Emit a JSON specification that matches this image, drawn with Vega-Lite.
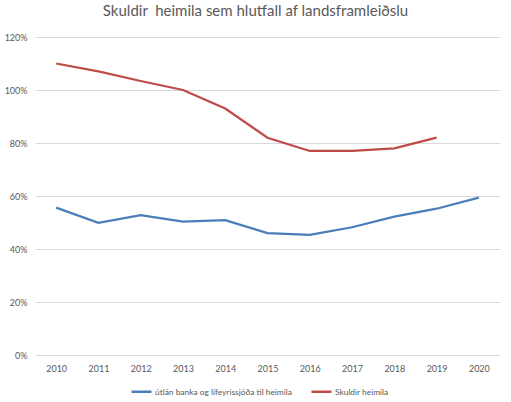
{
  "$schema": "https://vega.github.io/schema/vega-lite/v6.json",
  "autosize": "none",
  "width": 465,
  "height": 318,
  "padding": {"left": 35, "top": 37, "right": 11, "bottom": 47},
  "background": "white",
  "title": {
    "text": "Skuldir\u00a0 heimila sem hlutfall af landsframleiðslu",
    "font": "Lato",
    "fontSize": 15,
    "fontWeight": "normal",
    "color": "#595959",
    "anchor": "middle",
    "dx": -12,
    "offset": 14
  },
  "data": {
    "values": [
      {"ar": "2010", "flokkur": "útlán banka og lífeyrissjóða til heimila", "gildi": 0.556},
      {"ar": "2011", "flokkur": "útlán banka og lífeyrissjóða til heimila", "gildi": 0.499},
      {"ar": "2012", "flokkur": "útlán banka og lífeyrissjóða til heimila", "gildi": 0.528},
      {"ar": "2013", "flokkur": "útlán banka og lífeyrissjóða til heimila", "gildi": 0.503},
      {"ar": "2014", "flokkur": "útlán banka og lífeyrissjóða til heimila", "gildi": 0.509},
      {"ar": "2015", "flokkur": "útlán banka og lífeyrissjóða til heimila", "gildi": 0.460},
      {"ar": "2016", "flokkur": "útlán banka og lífeyrissjóða til heimila", "gildi": 0.453},
      {"ar": "2017", "flokkur": "útlán banka og lífeyrissjóða til heimila", "gildi": 0.482},
      {"ar": "2018", "flokkur": "útlán banka og lífeyrissjóða til heimila", "gildi": 0.522},
      {"ar": "2019", "flokkur": "útlán banka og lífeyrissjóða til heimila", "gildi": 0.552},
      {"ar": "2020", "flokkur": "útlán banka og lífeyrissjóða til heimila", "gildi": 0.594},
      {"ar": "2010", "flokkur": "Skuldir heimila", "gildi": 1.10},
      {"ar": "2011", "flokkur": "Skuldir heimila", "gildi": 1.07},
      {"ar": "2012", "flokkur": "Skuldir heimila", "gildi": 1.034},
      {"ar": "2013", "flokkur": "Skuldir heimila", "gildi": 1.00},
      {"ar": "2014", "flokkur": "Skuldir heimila", "gildi": 0.93},
      {"ar": "2015", "flokkur": "Skuldir heimila", "gildi": 0.82},
      {"ar": "2016", "flokkur": "Skuldir heimila", "gildi": 0.77},
      {"ar": "2017", "flokkur": "Skuldir heimila", "gildi": 0.77},
      {"ar": "2018", "flokkur": "Skuldir heimila", "gildi": 0.78},
      {"ar": "2019", "flokkur": "Skuldir heimila", "gildi": 0.82}
    ]
  },
  "mark": {"type": "line", "strokeWidth": 2.25},
  "encoding": {
    "x": {
      "field": "ar",
      "type": "ordinal",
      "scale": {"type": "point", "padding": 0.5},
      "axis": {
        "title": null,
        "labelAngle": 0,
        "ticks": false,
        "domain": false,
        "labelPadding": 9,
        "labelFont": "Lato",
        "labelFontSize": 9,
        "labelColor": "#595959"
      }
    },
    "y": {
      "field": "gildi",
      "type": "quantitative",
      "scale": {"domain": [0, 1.2]},
      "axis": {
        "title": null,
        "values": [0, 0.2, 0.4, 0.6, 0.8, 1.0, 1.2],
        "format": ".0%",
        "ticks": false,
        "domain": false,
        "labelPadding": 8,
        "labelFont": "Lato",
        "labelFontSize": 9,
        "labelColor": "#595959",
        "gridColor": "#d9d9d9",
        "gridWidth": 1
      }
    },
    "color": {
      "field": "flokkur",
      "type": "nominal",
      "scale": {
        "domain": ["útlán banka og lífeyrissjóða til heimila", "Skuldir heimila"],
        "range": ["#4A7EBB", "#BE4B48"]
      },
      "legend": {
        "title": null,
        "orient": "none",
        "direction": "horizontal",
        "legendX": 95,
        "legendY": 343,
        "symbolType": "stroke",
        "symbolSize": 400,
        "symbolStrokeWidth": 2.5,
        "labelFont": "Lato",
        "labelFontSize": 8.4,
        "labelColor": "#595959",
        "labelOffset": 2,
        "columnPadding": 14
      }
    }
  },
  "config": {
    "view": {"stroke": null}
  }
}
